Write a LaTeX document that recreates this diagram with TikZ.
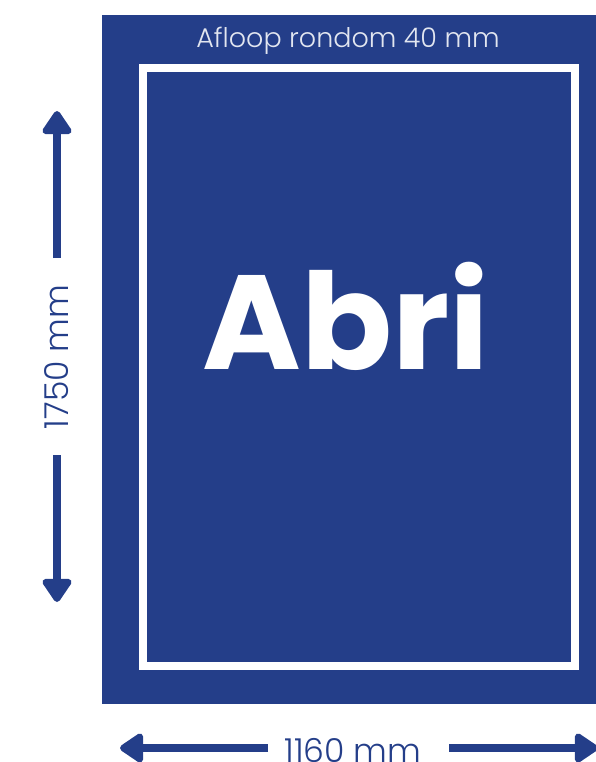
\documentclass[tikz,border=0pt]{standalone}
\usepackage{fontspec}
\setmainfont{Poppins}
\newfontfamily\lightfont{Poppins Light}
\usetikzlibrary{arrows.meta}
\definecolor{abriblue}{RGB}{36,62,137}
\definecolor{softwhite}{RGB}{226,230,240}
\begin{document}
\begin{tikzpicture}[x=1pt,y=-1pt,
  dimarrow/.style={draw=abriblue,line width=8pt,-{Triangle[length=26pt,width=33pt,round]}},
  dimtext/.style={text=abriblue,font=\lightfont\fontsize{33}{33}\selectfont,inner sep=0pt},
  toptext/.style={text=softwhite,font=\lightfont\fontsize{27}{27}\selectfont,inner sep=0pt},
  bigtext/.style={text=white,font=\bfseries\fontsize{134}{134}\selectfont,inner sep=0pt}]
\useasboundingbox (0,0) rectangle (595,762);
\fill[abriblue] (102,15) rectangle (600,704);
\draw[white,line width=8pt] (143,68) rectangle (575,666);
\node[toptext] (top) at (348,41) {Afloop rondom 40 mm};
\node[bigtext] (abri) at (346,316) {Abri};
\node[dimtext,rotate=90] (h) at (57,357) {1750 mm};
\node[dimtext] (w) at (353,750) {1160 mm};
\coordinate (hup0) at (57,258);
\coordinate (hup1) at (57,111);
\coordinate (hdn0) at (57,455);
\coordinate (hdn1) at (57,602);
\coordinate (wl0) at (268,748);
\coordinate (wl1) at (120,748);
\coordinate (wr0) at (449,748);
\coordinate (wr1) at (598,748);
\draw[dimarrow] (hup0) -- (hup1);
\draw[dimarrow] (hdn0) -- (hdn1);
\draw[dimarrow] (wl0) -- (wl1);
\draw[dimarrow] (wr0) -- (wr1);
\end{tikzpicture}
\end{document}
